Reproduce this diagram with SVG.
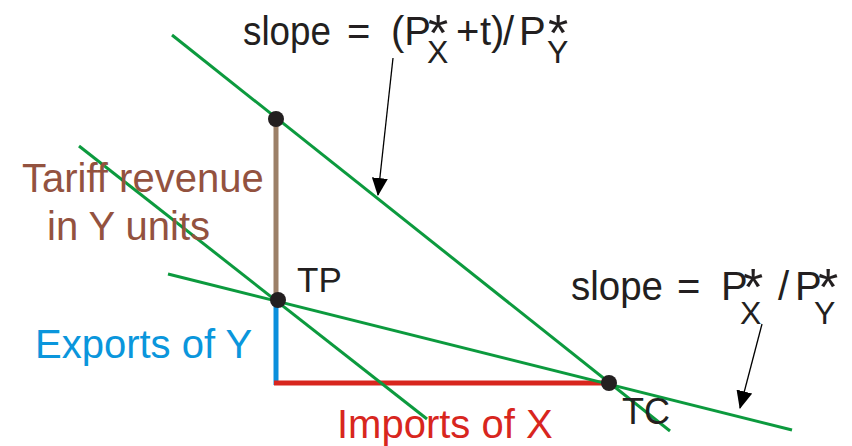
<svg xmlns="http://www.w3.org/2000/svg" width="852" height="446" viewBox="0 0 852 446">
<style>
text{font-family:"Liberation Sans",Arial,sans-serif;font-size:40px;fill:#231f20}
.ast{font-size:52px}
.sub{font-size:32px}
.g{stroke:#0c9a3e;stroke-width:3;fill:none}
.pt{fill:#231f20}
</style>
<defs>
<marker id="ah" markerUnits="userSpaceOnUse" markerWidth="18" markerHeight="16" refX="17" refY="8" orient="auto">
<path d="M0,0 L18,8 L0,16 Z" fill="#000"/>
</marker>
</defs>
<g id="axes">
<line x1="276" y1="119" x2="276" y2="300" stroke="#9c8068" stroke-width="5"/>
<line x1="276" y1="300" x2="276" y2="385" stroke="#0a8fdc" stroke-width="5"/>
<line x1="274" y1="383" x2="609" y2="383" stroke="#d8261e" stroke-width="5"/>
</g>
<g id="connectors">
<line class="g" x1="172" y1="35" x2="670" y2="431"/>
<line class="g" x1="79" y1="146" x2="427" y2="419"/>
<line class="g" x1="168" y1="274" x2="792" y2="430"/>
<line x1="393" y1="58" x2="378" y2="195" stroke="#000" stroke-width="1.3" marker-end="url(#ah)"/>
<line x1="762" y1="324" x2="740" y2="408" stroke="#000" stroke-width="1.3" marker-end="url(#ah)"/>
</g>
<g id="points">
<circle class="pt" cx="276" cy="119" r="8"/>
<circle class="pt" cx="278" cy="300" r="8"/>
<circle class="pt" cx="609" cy="383" r="8"/>
</g>
<g id="labels">
<text x="22" y="192" style="fill:#93523f">Tariff revenue</text>
<text x="47" y="240" style="fill:#93523f">in Y units</text>
<text x="35" y="358" style="fill:#0a96dc">Exports of Y</text>
<text x="337" y="438" style="fill:#d8261e">Imports of X</text>
<text x="297" y="292" style="font-size:35px">TP</text>
<text x="622" y="424" style="font-size:36px">TC</text>
</g>
<g id="slope-top">
<text><tspan x="243" y="45" textLength="88" lengthAdjust="spacingAndGlyphs">slope</tspan><tspan x="347" y="45">=</tspan><tspan x="391" y="45">(P</tspan><tspan class="ast" x="428" y="51">*</tspan><tspan class="sub" x="427" y="63">X</tspan><tspan x="456" y="45">+</tspan><tspan x="480" y="45">t)</tspan><tspan x="503" y="45">/</tspan><tspan x="519" y="45">P</tspan><tspan class="ast" x="548" y="51">*</tspan><tspan class="sub" x="547" y="63">Y</tspan></text>
</g>
<g id="slope-right">
<text><tspan x="571" y="300" textLength="92" lengthAdjust="spacingAndGlyphs">slope</tspan><tspan x="677" y="300">=</tspan><tspan x="721" y="300">P</tspan><tspan class="ast" x="743" y="305">*</tspan><tspan class="sub" x="740" y="324">X</tspan><tspan x="778" y="300">/</tspan><tspan x="795" y="300">P</tspan><tspan class="ast" x="818" y="305">*</tspan><tspan class="sub" x="814" y="324">Y</tspan></text>
</g>
</svg>
